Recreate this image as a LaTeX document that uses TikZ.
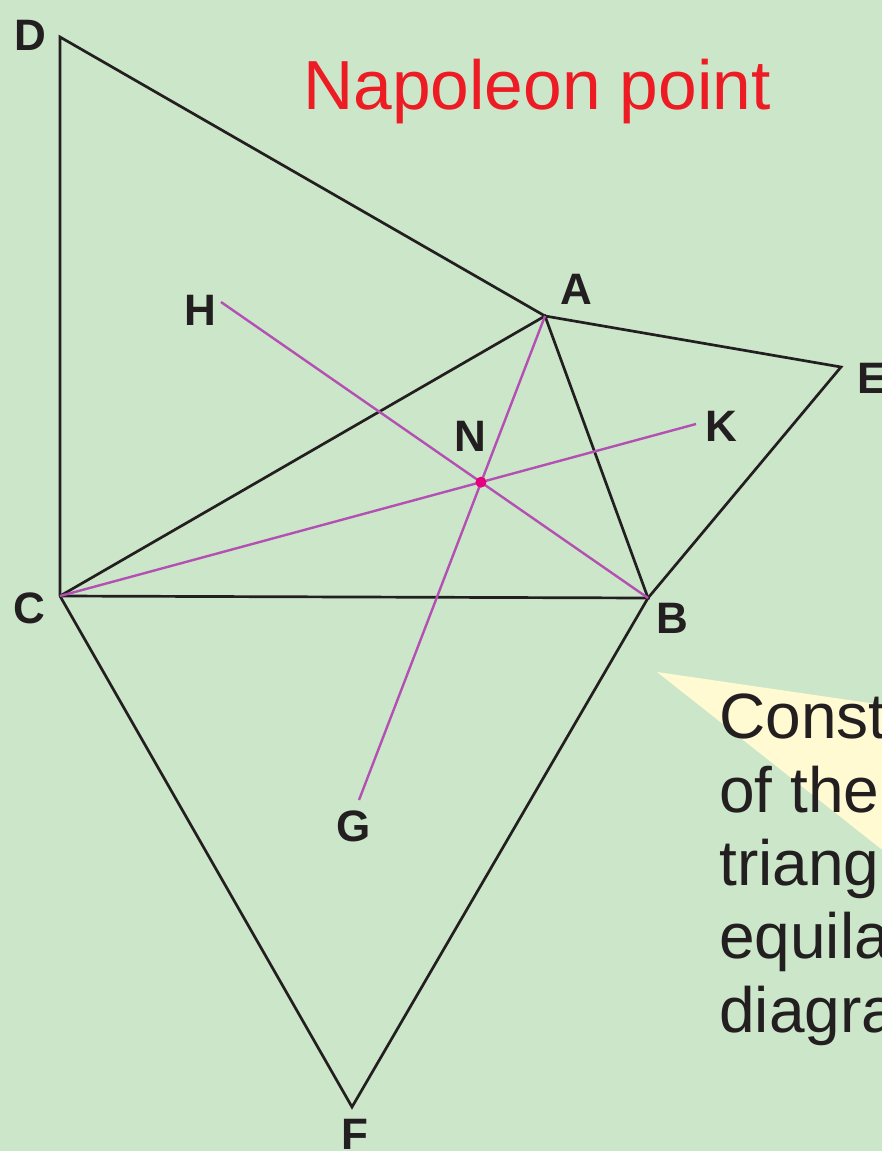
\documentclass[tikz,border=0pt]{standalone}
\usepackage{fontspec}
\setmainfont{Liberation Sans}
\definecolor{bg}{RGB}{203,230,201}
\definecolor{wedge}{RGB}{255,250,210}
\definecolor{mag}{RGB}{180,80,180}
\definecolor{dotc}{RGB}{230,0,126}
\definecolor{titlered}{RGB}{237,28,36}
\definecolor{ink}{RGB}{35,31,32}
\tikzset{
  edge/.style={draw=ink, line width=2.7pt, line join=miter},
  medline/.style={draw=mag, line width=2.4pt},
  vlabel/.style={text=ink, inner sep=0pt, font=\fontsize{44}{50}\selectfont\bfseries},
  bodytext/.style={text=ink, inner sep=0pt, anchor=base west, font=\fontsize{64}{73}\selectfont},
}
\begin{document}
\begin{tikzpicture}[x=1pt,y=-1pt]
\fill[bg] (0,0) rectangle (882,1151);
\useasboundingbox (0,0) rectangle (882,1151);
\clip (0,0) rectangle (882,1151);
% callout wedge
\fill[wedge] (657,672) -- (890,706) -- (890,856) -- cycle;
% vertices
\coordinate (D) at (60,37);
\coordinate (A) at (545,316);
\coordinate (E) at (841,367);
\coordinate (C) at (60,596);
\coordinate (B) at (648,598);
\coordinate (F) at (352,1107);
\coordinate (H) at (221,302);
\coordinate (K) at (696,424);
\coordinate (G) at (359,800);
% black edges
\draw[edge] (C) -- (D) -- (A) -- (E) -- (B) -- (F) -- (C);
\draw[edge] (C) -- (A) -- (B) -- (C);
% magenta lines
\draw[medline] (H) -- (B);
\draw[medline] (C) -- (K);
\draw[medline] (A) -- (G);
\coordinate (N) at (intersection of H--B and C--K);
\fill[dotc] (N) circle (5.5pt);
% labels
\node[vlabel] (lD) at (30,35) {D};
\node[vlabel] (lA) at (576,289) {A};
\node[vlabel] (lE) at (872,378) {E};
\node[vlabel] (lH) at (200,310) {H};
\node[vlabel] (lN) at (470,436) {N};
\node[vlabel] (lK) at (721,426) {K};
\node[vlabel] (lC) at (29,608) {C};
\node[vlabel] (lB) at (672,618) {B};
\node[vlabel] (lG) at (354,826) {G};
\node[vlabel] (lF) at (355,1134) {F};
% title
\node[text=titlered, inner sep=0pt, anchor=base west, font=\fontsize{69.5}{80}\selectfont] (title) at (303,109) {Napoleon point};
% callout text
\node[bodytext] (t1) at (719,738) {Const};
\node[bodytext] (t2) at (719,812) {of the};
\node[bodytext] (t3) at (719,885) {triang};
\node[bodytext] (t4) at (719,958) {equila};
\node[bodytext] (t5) at (719,1032) {diagra};
\end{tikzpicture}
\end{document}
